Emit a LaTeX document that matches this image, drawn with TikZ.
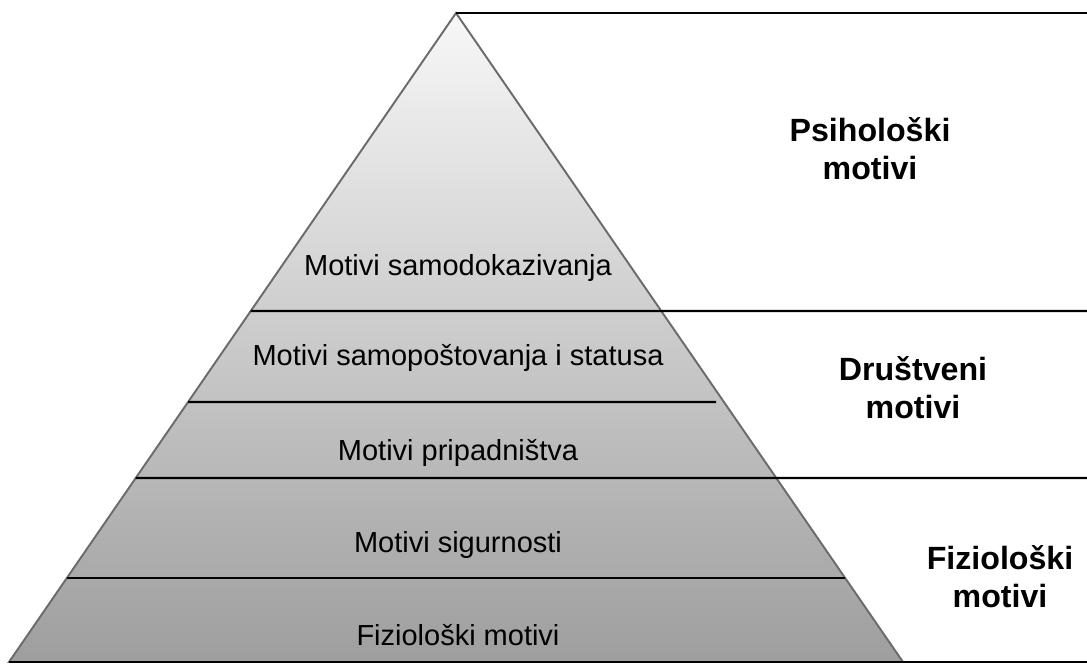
\documentclass[tikz,border=0pt]{standalone}
\usepackage{fontspec}
\setmainfont{Liberation Sans}
\usetikzlibrary{calc}
\tikzset{
  level/.style={draw=black,line width=1.2pt},
  stage/.style={font=\fontsize{16.5}{19}\selectfont,inner sep=0pt},
  group/.style={font=\fontsize{18.3}{21.6}\selectfont\bfseries,align=center,inner sep=0pt}
}
\begin{document}
\begin{tikzpicture}[x=0.02cm,y=-0.02cm]
		\useasboundingbox (0,0) rectangle (1087,666);
		\coordinate (A) at (456,13);
		\coordinate (L) at (9,662);
		\coordinate (R) at (903,662);
		% pyramid
		\shade[top color=black!3,bottom color=black!38] (A)--(L)--(R)--cycle;
		\draw[black!58,line width=1.1pt] (A)--(L)--(R)--cycle;
		% levels
		\coordinate (e) at (1087,13);
		\draw[level] (A)--(e);
		\draw[level] ($(A)!0.4592!(L)$)--(1087,311);
		\draw[level] ($(A)!0.5994!(L)$)--(716,402);
		\draw[level] ($(A)!0.7165!(L)$)--(1087,478);
		\draw[level] ($(A)!0.8706!(L)$)--($(A)!0.8706!(R)$);
		\draw[level] (L)--(1087,662);
		% labels
		\node[stage] (s1) at (458,268) {Motivi samodokazivanja};
		\node[stage] (s2) at (458,358) {Motivi samopoštovanja i statusa};
		\node[stage] (s3) at (458,453) {Motivi pripadništva};
		\node[stage] (s4) at (458,545) {Motivi sigurnosti};
		\node[stage] (s5) at (458,635) {Fiziološki motivi};
		\node[group] (g1) at (870,149) {Psihološki\\motivi};
		\node[group] (g2) at (913,388) {Društveni\\motivi};
		\node[group] (g3) at (1000,577) {Fiziološki\\motivi};
\end{tikzpicture}
\end{document}
